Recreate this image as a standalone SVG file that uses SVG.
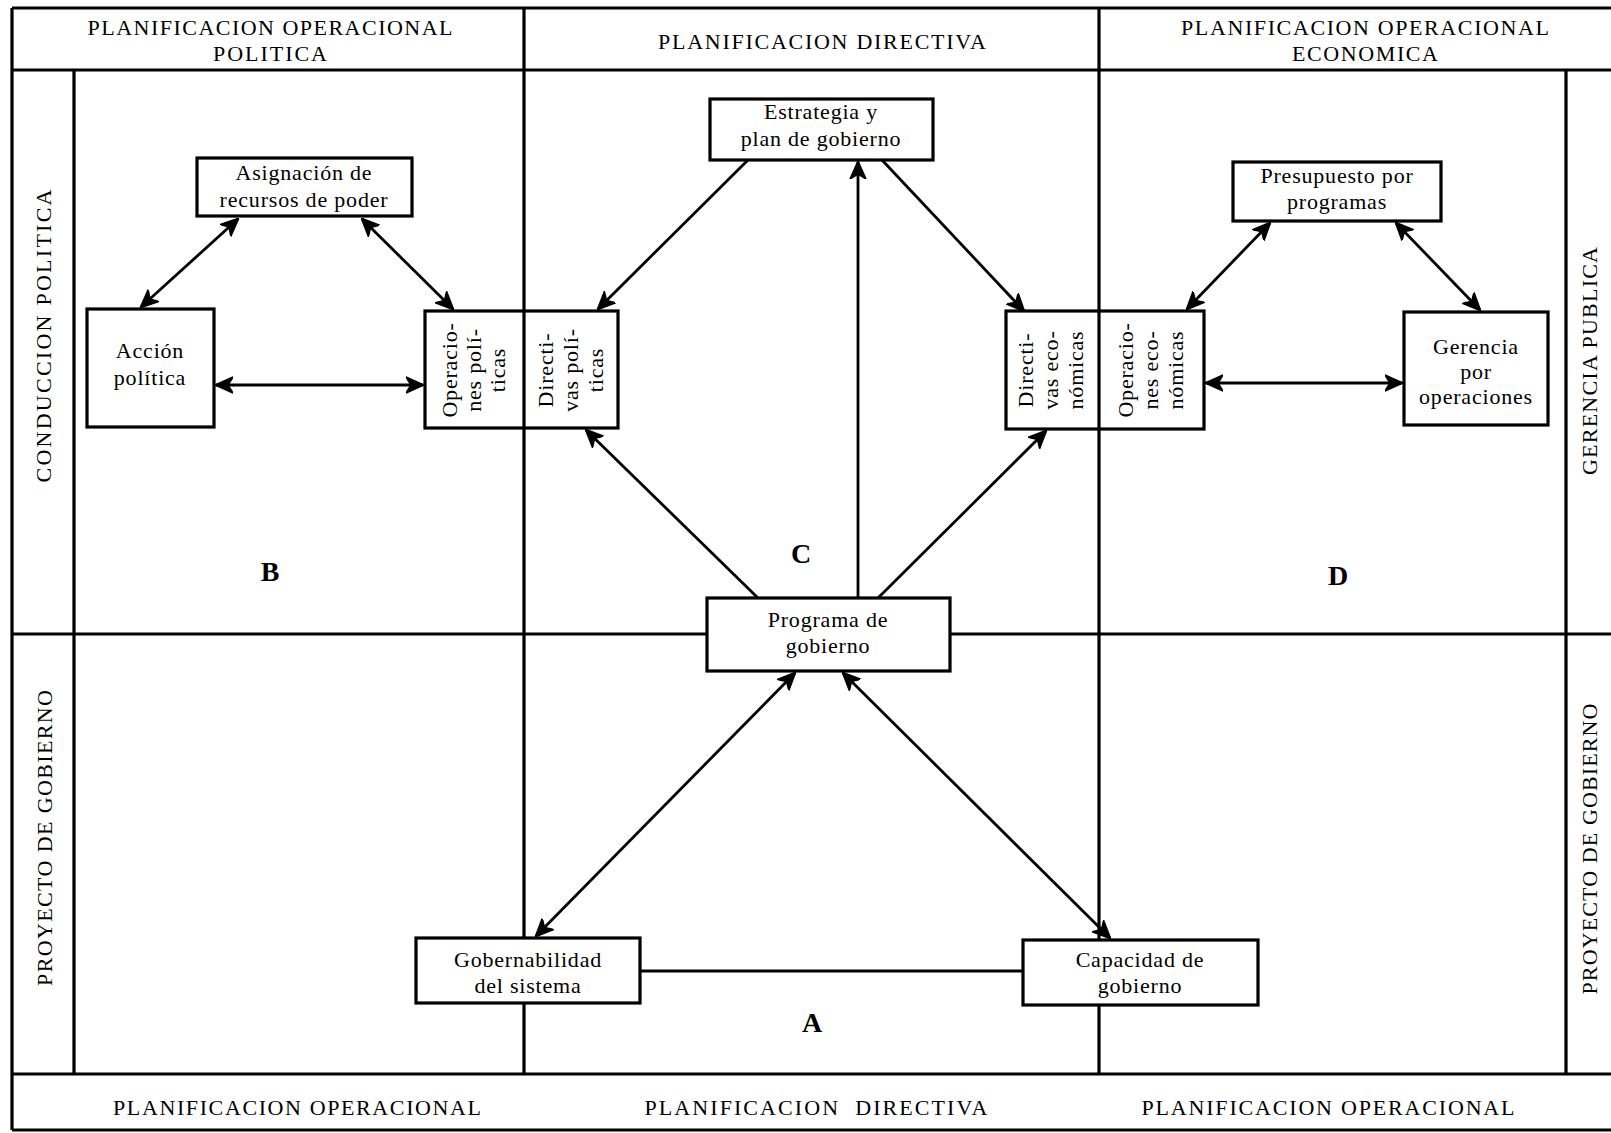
<svg xmlns="http://www.w3.org/2000/svg" width="1611" height="1133" viewBox="0 0 1611 1133">
<defs>
<style>
.g{stroke:#000;stroke-width:3.2;fill:none}
.box{fill:#fff;stroke:#000;stroke-width:3.2}
.c{stroke:#000;stroke-width:2.8;fill:none}
.t{font-family:"Liberation Serif","Times New Roman",serif;font-size:22px;letter-spacing:0.8px;text-anchor:middle;fill:#000}
.h{font-family:"Liberation Serif","Times New Roman",serif;font-size:22px;text-anchor:middle;fill:#000}
.L{font-family:"Liberation Serif","Times New Roman",serif;font-size:28px;font-weight:bold;text-anchor:middle;fill:#000}
</style>
<marker id="ah" viewBox="0 0 18 18" refX="17" refY="9" markerWidth="18" markerHeight="18" markerUnits="userSpaceOnUse" orient="auto-start-reverse">
<path d="M0,1 L18,9 L0,17 L5,9 z" fill="#000" stroke="#000" stroke-width="1.5" stroke-linejoin="round"/>
</marker>
</defs>
<rect width="1611" height="1133" fill="#fff"/>
<g id="grid" class="g">
<path d="M12,8 H1611 M12,70 H1611 M12,8 V1130 M74,70 V1074 M1566,70 V1074 M524,8 V1074 M1099,8 V1074 M12,634 H1611 M12,1074 H1611 M12,1130 H1611"/>
</g>
<g id="labels">
<text class="h" x="270" y="35" textLength="365" lengthAdjust="spacing">PLANIFICACION OPERACIONAL</text>
<text class="h" x="270" y="61" textLength="114" lengthAdjust="spacing">POLITICA</text>
<text class="h" x="822" y="49" textLength="328" lengthAdjust="spacing">PLANIFICACION DIRECTIVA</text>
<text class="h" x="1365" y="35" textLength="368" lengthAdjust="spacing">PLANIFICACION OPERACIONAL</text>
<text class="h" x="1365" y="61" textLength="146" lengthAdjust="spacing">ECONOMICA</text>
<text class="h" x="297" y="1115" textLength="368" lengthAdjust="spacing">PLANIFICACION OPERACIONAL</text>
<text class="h" x="816" y="1115" textLength="343" lengthAdjust="spacing" xml:space="preserve">PLANIFICACION  DIRECTIVA</text>
<text class="h" x="1328" y="1115" textLength="373" lengthAdjust="spacing">PLANIFICACION OPERACIONAL</text>
<text class="h" transform="translate(51,336) rotate(-90)" textLength="293" lengthAdjust="spacing">CONDUCCION POLITICA</text>
<text class="h" transform="translate(52,838) rotate(-90)" textLength="296" lengthAdjust="spacing">PROYECTO DE GOBIERNO</text>
<text class="h" transform="translate(1597,361) rotate(-90)" textLength="228" lengthAdjust="spacing">GERENCIA PUBLICA</text>
<text class="h" transform="translate(1597,849) rotate(-90)" textLength="291" lengthAdjust="spacing">PROYECTO DE GOBIERNO</text>
<text class="L" x="270" y="581">B</text>
<text class="L" x="801" y="563">C</text>
<text class="L" x="1338" y="585">D</text>
<text class="L" x="812" y="1032">A</text>
</g>
<g id="connectors" class="c">
<line x1="238" y1="219" x2="141" y2="307" marker-start="url(#ah)" marker-end="url(#ah)"/>
<line x1="362" y1="219" x2="453" y2="309" marker-start="url(#ah)" marker-end="url(#ah)"/>
<line x1="216" y1="385" x2="423" y2="385" marker-start="url(#ah)" marker-end="url(#ah)"/>
<line x1="748" y1="160" x2="598" y2="309" marker-end="url(#ah)"/>
<line x1="882" y1="160" x2="1024" y2="311" marker-end="url(#ah)"/>
<line x1="858" y1="598" x2="858" y2="162" marker-end="url(#ah)"/>
<line x1="758" y1="598" x2="586" y2="430" marker-end="url(#ah)"/>
<line x1="878" y1="598" x2="1046" y2="431" marker-end="url(#ah)"/>
<line x1="795" y1="673" x2="536" y2="936" marker-start="url(#ah)" marker-end="url(#ah)"/>
<line x1="843" y1="673" x2="1110" y2="938" marker-start="url(#ah)" marker-end="url(#ah)"/>
<line x1="640" y1="971" x2="1023" y2="971"/>
<line x1="1270" y1="223" x2="1187" y2="309" marker-start="url(#ah)" marker-end="url(#ah)"/>
<line x1="1396" y1="223" x2="1480" y2="310" marker-start="url(#ah)" marker-end="url(#ah)"/>
<line x1="1206" y1="383" x2="1402" y2="383" marker-start="url(#ah)" marker-end="url(#ah)"/>
</g>
<g id="asignacion">
<rect class="box" x="197" y="158" width="215" height="58"/>
<text class="t" x="304" y="180">Asignación de</text>
<text class="t" x="304" y="207">recursos de poder</text>
</g>
<g id="accion">
<rect class="box" x="87" y="309" width="127" height="118"/>
<text class="t" x="150" y="358">Acción</text>
<text class="t" x="150" y="385">política</text>
</g>
<g id="politicas">
<rect class="box" x="425" y="311" width="193" height="117"/>
<line x1="524" y1="311" x2="524" y2="428" stroke="#000" stroke-width="3.2"/>
<text class="t" transform="translate(457,370) rotate(-90)">Operacio-</text>
<text class="t" transform="translate(481,370) rotate(-90)">nes polí-</text>
<text class="t" transform="translate(505,370) rotate(-90)">ticas</text>
<text class="t" transform="translate(553,370) rotate(-90)">Directi-</text>
<text class="t" transform="translate(578,370) rotate(-90)">vas polí-</text>
<text class="t" transform="translate(603,370) rotate(-90)">ticas</text>
</g>
<g id="estrategia">
<rect class="box" x="710" y="99" width="223" height="61"/>
<text class="t" x="821" y="119">Estrategia y</text>
<text class="t" x="821" y="146">plan de gobierno</text>
</g>
<g id="economicas">
<rect class="box" x="1006" y="311" width="198" height="118"/>
<line x1="1099" y1="311" x2="1099" y2="429" stroke="#000" stroke-width="3.2"/>
<text class="t" transform="translate(1033,370) rotate(-90)">Directi-</text>
<text class="t" transform="translate(1058,370) rotate(-90)">vas eco-</text>
<text class="t" transform="translate(1083,370) rotate(-90)">nómicas</text>
<text class="t" transform="translate(1133,370) rotate(-90)">Operacio-</text>
<text class="t" transform="translate(1158,370) rotate(-90)">nes eco-</text>
<text class="t" transform="translate(1183,370) rotate(-90)">nómicas</text>
</g>
<g id="presupuesto">
<rect class="box" x="1233" y="162" width="208" height="59"/>
<text class="t" x="1337" y="183">Presupuesto por</text>
<text class="t" x="1337" y="209">programas</text>
</g>
<g id="gerencia">
<rect class="box" x="1404" y="312" width="144" height="113"/>
<text class="t" x="1476" y="354">Gerencia</text>
<text class="t" x="1476" y="379">por</text>
<text class="t" x="1476" y="404">operaciones</text>
</g>
<g id="programa">
<rect class="box" x="707" y="598" width="243" height="73"/>
<text class="t" x="828" y="627">Programa de</text>
<text class="t" x="828" y="653">gobierno</text>
</g>
<g id="gobernabilidad">
<rect class="box" x="416" y="938" width="224" height="65"/>
<text class="t" x="528" y="967">Gobernabilidad</text>
<text class="t" x="528" y="993">del sistema</text>
</g>
<g id="capacidad">
<rect class="box" x="1023" y="940" width="235" height="65"/>
<text class="t" x="1140" y="967">Capacidad de</text>
<text class="t" x="1140" y="993">gobierno</text>
</g>
</svg>
